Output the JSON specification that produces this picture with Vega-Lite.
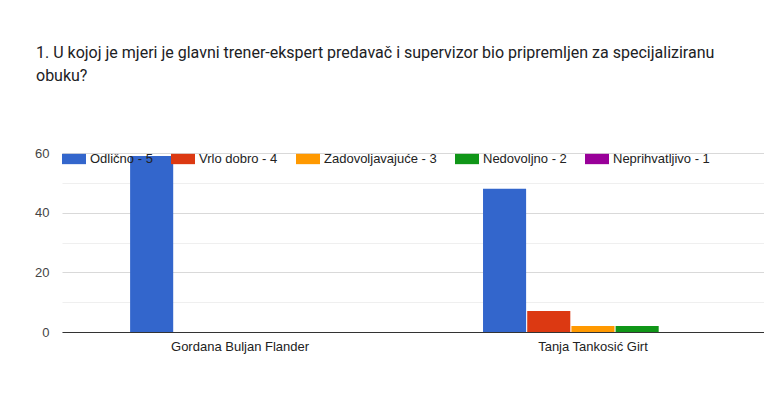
{
  "$schema": "https://vega.github.io/schema/vega-lite/v6.json",
  "autosize": {"type": "none"},
  "width": 709,
  "height": 179,
  "padding": {"left": 62, "top": 153, "right": 0, "bottom": 69},
  "background": "white",
  "title": {
    "text": ["1. U kojoj je mjeri je glavni trener-ekspert predavač i supervizor bio pripremljen za specijaliziranu", "obuku?"],
    "anchor": "start",
    "frame": "group",
    "font": "Roboto",
    "fontSize": 16,
    "fontWeight": "normal",
    "color": "#202124",
    "lineHeight": 23,
    "dx": -26,
    "offset": 63
  },
  "data": {
    "values": [
      {"trener": "Gordana Buljan Flander", "ocjena": "Odlično - 5", "broj": 59},
      {"trener": "Gordana Buljan Flander", "ocjena": "Vrlo dobro - 4", "broj": 0},
      {"trener": "Gordana Buljan Flander", "ocjena": "Zadovoljavajuće - 3", "broj": 0},
      {"trener": "Gordana Buljan Flander", "ocjena": "Nedovoljno - 2", "broj": 0},
      {"trener": "Gordana Buljan Flander", "ocjena": "Neprihvatljivo - 1", "broj": 0},
      {"trener": "Tanja Tankosić Girt", "ocjena": "Odlično - 5", "broj": 48},
      {"trener": "Tanja Tankosić Girt", "ocjena": "Vrlo dobro - 4", "broj": 7},
      {"trener": "Tanja Tankosić Girt", "ocjena": "Zadovoljavajuće - 3", "broj": 2},
      {"trener": "Tanja Tankosić Girt", "ocjena": "Nedovoljno - 2", "broj": 2},
      {"trener": "Tanja Tankosić Girt", "ocjena": "Neprihvatljivo - 1", "broj": 0}
    ]
  },
  "mark": {"type": "bar", "strokeWidth": 0},
  "encoding": {
    "x": {
      "field": "trener",
      "type": "nominal",
      "sort": null,
      "title": null,
      "scale": {"paddingInner": 0.377, "paddingOuter": 0.193},
      "axis": {
        "labelAngle": 0,
        "labelFont": "Liberation Sans",
        "labelFontSize": 13,
        "labelColor": "#222222",
        "labelPadding": 8,
        "ticks": false,
        "tickSize": 0,
        "domainColor": "#333333",
        "domainWidth": 1.2,
        "grid": false,
        "zindex": 1
      }
    },
    "xOffset": {
      "field": "ocjena",
      "type": "nominal",
      "sort": ["Odlično - 5", "Vrlo dobro - 4", "Zadovoljavajuće - 3", "Nedovoljno - 2", "Neprihvatljivo - 1"],
      "scale": {"paddingInner": 0.025, "paddingOuter": 0}
    },
    "y": {
      "field": "broj",
      "type": "quantitative",
      "title": null,
      "scale": {"domain": [0, 60], "nice": false},
      "axis": {
        "values": [0, 10, 20, 30, 40, 50, 60],
        "labelExpr": "datum.value % 20 === 0 ? datum.label : ''",
        "labelFont": "Liberation Sans",
        "labelFontSize": 13,
        "labelColor": "#444444",
        "labelPadding": 13,
        "ticks": false,
        "tickSize": 0,
        "domain": false,
        "gridColor": {"condition": {"test": "datum.value % 20 === 0", "value": "#d9d9d9"}, "value": "#efefef"},
        "gridWidth": 1
      }
    },
    "color": {
      "field": "ocjena",
      "type": "nominal",
      "sort": ["Odlično - 5", "Vrlo dobro - 4", "Zadovoljavajuće - 3", "Nedovoljno - 2", "Neprihvatljivo - 1"],
      "scale": {
        "domain": ["Odlično - 5", "Vrlo dobro - 4", "Zadovoljavajuće - 3", "Nedovoljno - 2", "Neprihvatljivo - 1"],
        "range": ["#3366cc", "#dc3912", "#ff9900", "#109618", "#990099"]
      },
      "legend": {
        "title": null,
        "orient": "none",
        "direction": "horizontal",
        "columns": 5,
        "legendX": 0,
        "legendY": -6,
        "symbolType": "M-1,-0.43H1V0.43H-1Z",
        "symbolSize": 576,
        "symbolStrokeWidth": 0,
        "symbolOpacity": 1,
        "labelFont": "Liberation Sans",
        "labelFontSize": 13,
        "labelColor": "#222222",
        "labelOffset": 4,
        "columnPadding": 18
      }
    }
  },
  "config": {
    "view": {"stroke": null}
  }
}
